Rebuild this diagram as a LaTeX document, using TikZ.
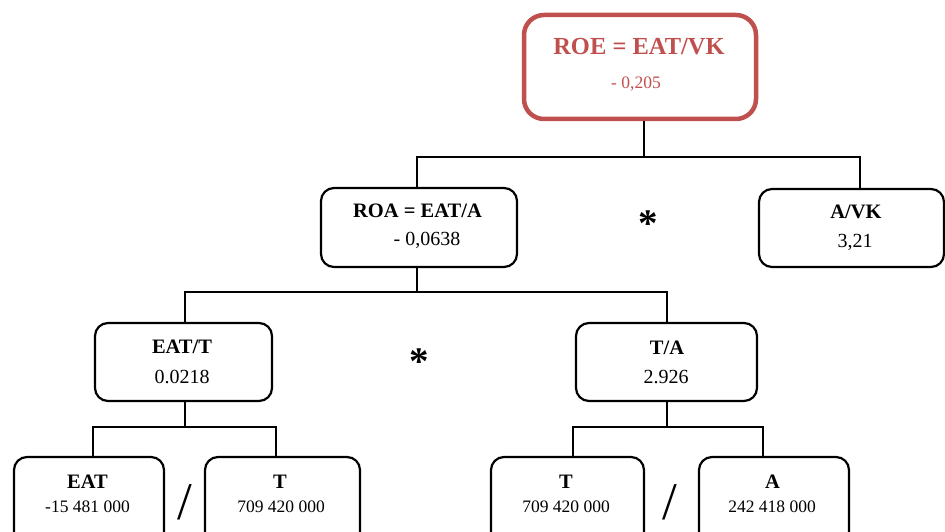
\documentclass[tikz,border=0pt]{standalone}
\usepackage{fontspec}
\setmainfont{Liberation Serif}
\definecolor{roered}{HTML}{C0504D}
\tikzset{
  box/.style={draw=black, line width=2.2pt, rounded corners=13pt, inner sep=0pt, fill=none},
  redbox/.style={draw=roered, line width=4.5pt, rounded corners=20pt, inner sep=0pt},
  ttl/.style={anchor=base, inner sep=0pt, font=\bfseries\fontsize{20.5}{22}\selectfont},
  val/.style={anchor=base, inner sep=0pt, font=\fontsize{20}{22}\selectfont},
  sval/.style={anchor=base, inner sep=0pt, font=\fontsize{17.5}{20}\selectfont},
  conn/.style={draw=black, line width=1.3pt},
  opstar/.style={anchor=base, inner sep=0pt, font=\bfseries\fontsize{39}{40}\selectfont},
  opslash/.style={anchor=base, inner sep=0pt, font=\fontsize{53}{55}\selectfont}
}
\begin{document}
\begin{tikzpicture}[x=1pt,y=-1pt]
\useasboundingbox (0,0) rectangle (945,532);
% boxes
\node[redbox, minimum width=232pt, minimum height=104pt] (roe) at (640,67) {};
\node[box, minimum width=196pt, minimum height=79pt] (roa) at (419,227.5) {};
\node[box, minimum width=185pt, minimum height=78pt] (avk) at (851.5,228) {};
\node[box, minimum width=177pt, minimum height=78pt] (eatt) at (183.5,362) {};
\node[box, minimum width=181pt, minimum height=78pt] (ta) at (666.5,362) {};
\node[box, minimum width=150pt, minimum height=88pt] (eat) at (89,501) {};
\node[box, minimum width=155pt, minimum height=88pt] (tl) at (282.5,501) {};
\node[box, minimum width=153pt, minimum height=88pt] (tr) at (567.5,501) {};
\node[box, minimum width=150pt, minimum height=88pt] (a) at (774,501) {};
% texts
\node[ttl, text=roered, font=\bfseries\fontsize{24.5}{26}\selectfont] (roe-t) at (639,55) {ROE = EAT/VK};
\node[sval, text=roered] (roe-v) at (636,89) {- 0,205};
\node[ttl] (roa-t) at (417.5,217) {ROA = EAT/A};
\node[val] (roa-v) at (427,245) {- 0,0638};
\node[ttl] (avk-t) at (856,218) {A/VK};
\node[val] (avk-v) at (855,247) {3,21};
\node[ttl] (eatt-t) at (182,353) {EAT/T};
\node[val] (eatt-v) at (182,383) {0.0218};
\node[ttl] (ta-t) at (667,354) {T/A};
\node[val] (ta-v) at (666,383) {2.926};
\node[ttl] (eat-t) at (87.5,488) {EAT};
\node[sval] (eat-v) at (87.5,512) {-15 481 000};
\node[ttl] (tl-t) at (280,488) {T};
\node[sval] (tl-v) at (281,512) {709 420 000};
\node[ttl] (tr-t) at (566,488) {T};
\node[sval] (tr-v) at (566,512) {709 420 000};
\node[ttl] (a-t) at (772.5,488) {A};
\node[sval] (a-v) at (772,512) {242 418 000};
% operators
\node[opstar] (star1) at (648,236.5) {*};
\node[opstar] (star2) at (419,374.5) {*};
\node[opslash] (slash1) at (185,519) {/};
\node[opslash] (slash2) at (670,519) {/};
% connectors
\coordinate (j1) at (644,157);
\coordinate (k1) at (417,157);
\coordinate (k2) at (860,157);
\draw[conn] (roe.south -| j1) -- (j1);
\draw[conn] (roa.north -| k1) -- (k1) -- (k2) -- (avk.north -| k2);
\coordinate (j2) at (417,292);
\coordinate (k3) at (185,292);
\coordinate (k4) at (667,292);
\draw[conn] (roa.south -| j2) -- (j2);
\draw[conn] (eatt.north -| k3) -- (k3) -- (k4) -- (ta.north -| k4);
\coordinate (j3) at (185,427);
\coordinate (k5) at (93,427);
\coordinate (k6) at (276,427);
\draw[conn] (eatt.south -| j3) -- (j3);
\draw[conn] (eat.north -| k5) -- (k5) -- (k6) -- (tl.north -| k6);
\coordinate (j4) at (667,427);
\coordinate (k7) at (573,427);
\coordinate (k8) at (763,427);
\draw[conn] (ta.south -| j4) -- (j4);
\draw[conn] (tr.north -| k7) -- (k7) -- (k8) -- (a.north -| k8);
\end{tikzpicture}
\end{document}
